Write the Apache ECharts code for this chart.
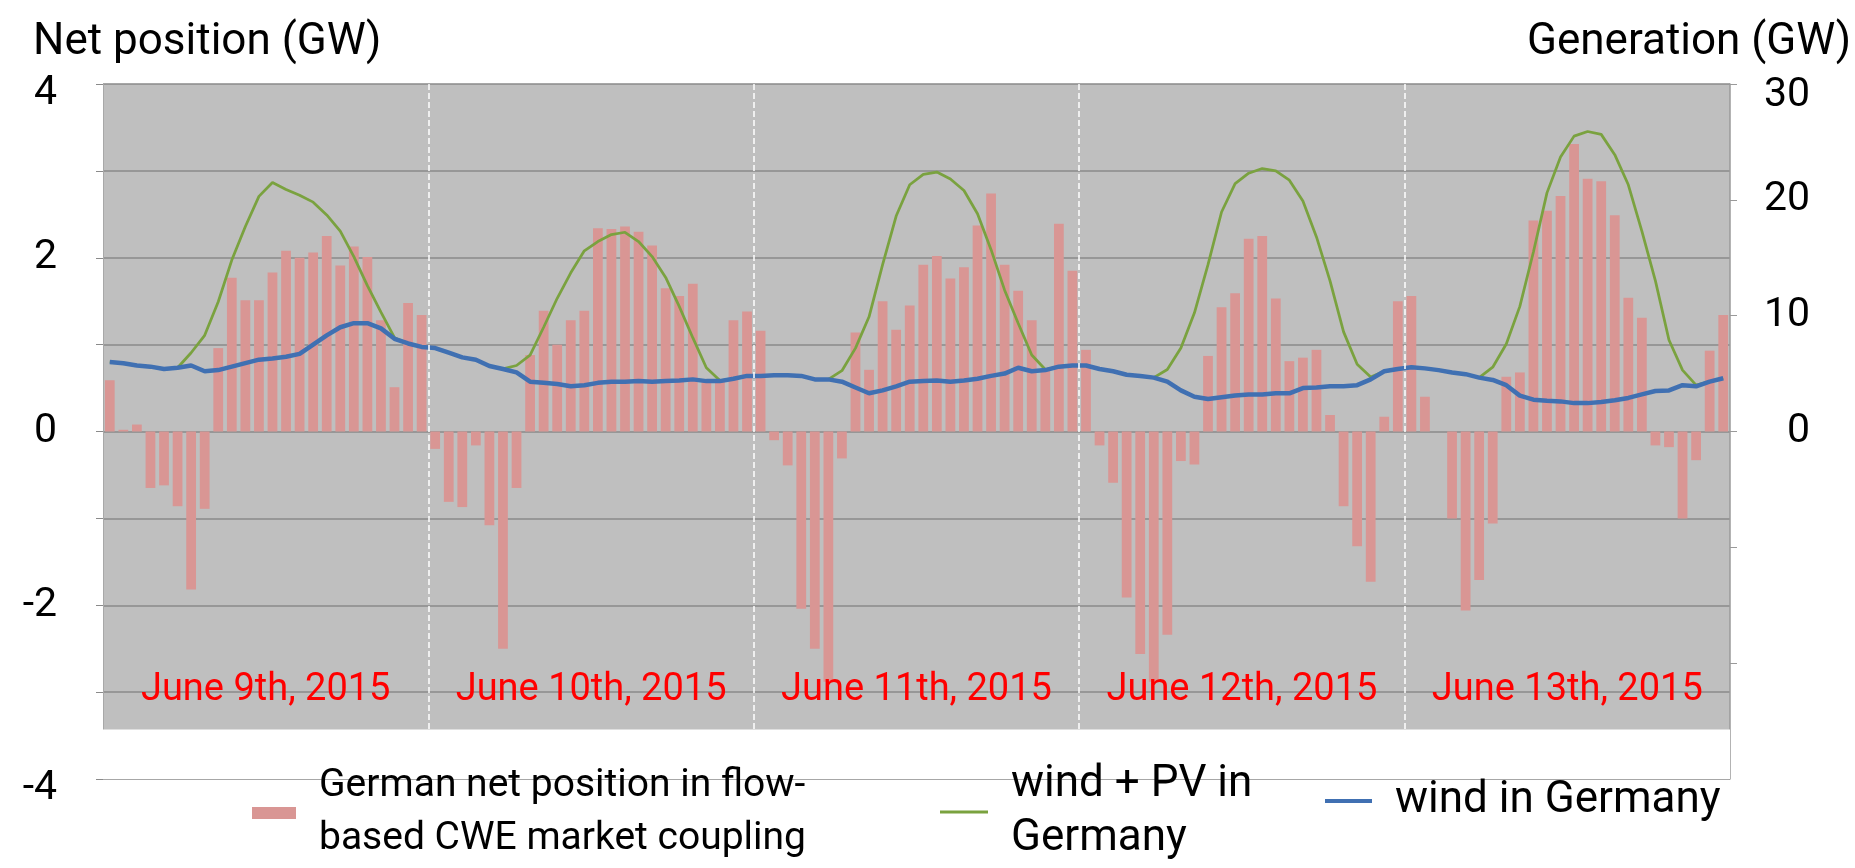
<!DOCTYPE html>
<html>
<head>
<meta charset="utf-8">
<script src="https://cdn.jsdelivr.net/npm/echarts@6/dist/echarts.min.js"></script>
<style>
html,body{margin:0;padding:0;background:#fff;}
#chart{width:1855px;height:868px;}
</style>
</head>
<body>
<div id="chart"></div>
<script>
// ---- data ----
const days = ['June 9th, 2015', 'June 10th, 2015', 'June 11th, 2015', 'June 12th, 2015', 'June 13th, 2015'];
const hours = ['00','01','02','03','04','05','06','07','08','09','10','11','12','13','14','15','16','17','18','19','20','21','22','23'];

// German net position in flow-based CWE market coupling (GW, left axis)
const netPosition = [
  0.59, 0.02, 0.08, -0.65, -0.62, -0.86, -1.82, -0.89, 0.96, 1.77, 1.51, 1.51, 1.83, 2.08, 2.00, 2.06, 2.25, 1.91, 2.13, 2.01, 1.28, 0.51, 1.48, 1.34,
  -0.20, -0.81, -0.87, -0.16, -1.08, -2.50, -0.65, 0.88, 1.39, 1.00, 1.28, 1.39, 2.34, 2.33, 2.36, 2.30, 2.14, 1.65, 1.56, 1.70, 0.58, 0.58, 1.28, 1.38,
  1.16, -0.10, -0.39, -2.04, -2.50, -2.88, -0.31, 1.14, 0.71, 1.50, 1.17, 1.45, 1.92, 2.02, 1.76, 1.89, 2.37, 2.74, 1.92, 1.62, 1.28, 0.71, 2.39, 1.85,
  0.94, -0.16, -0.59, -1.91, -2.56, -2.88, -2.34, -0.34, -0.38, 0.87, 1.43, 1.59, 2.22, 2.25, 1.53, 0.81, 0.85, 0.94, 0.19, -0.86, -1.32, -1.73, 0.17, 1.50,
  1.56, 0.40, 0.00, -1.00, -2.06, -1.71, -1.06, 0.63, 0.68, 2.43, 2.54, 2.71, 3.31, 2.91, 2.88, 2.49, 1.54, 1.31, -0.16, -0.18, -1.00, -0.33, 0.93, 1.34
];

// wind + PV in Germany (GW, right axis)
const windPV = [
  6.0, 5.9, 5.7, 5.6, 5.4, 5.5, 6.8, 8.3, 11.2, 14.8, 17.7, 20.3, 21.5, 20.9, 20.4, 19.8, 18.7, 17.3, 15.1, 12.6, 10.3, 8.1, 7.6, 7.3,
  7.2, 6.8, 6.4, 6.2, 5.65, 5.4, 5.7, 6.6, 9.0, 11.5, 13.7, 15.6, 16.4, 17.0, 17.2, 16.4, 15.1, 13.3, 10.8, 8.1, 5.5, 4.4, 4.55, 4.8,
  4.8, 4.85, 4.85, 4.8, 4.5, 4.5, 5.25, 7.2, 9.9, 14.4, 18.6, 21.3, 22.2, 22.4, 21.8, 20.8, 18.8, 15.7, 12.2, 9.35, 6.6, 5.35, 5.6, 5.7,
  5.7, 5.4, 5.2, 4.9, 4.8, 4.65, 5.35, 7.2, 10.25, 14.4, 18.95, 21.4, 22.3, 22.7, 22.5, 21.7, 19.9, 16.8, 13.0, 8.6, 5.8, 4.7, 5.2, 5.4,
  5.55, 5.45, 5.3, 5.1, 4.95, 4.65, 5.55, 7.55, 10.8, 15.5, 20.6, 23.7, 25.5, 25.9, 25.65, 23.9, 21.3, 17.3, 13.0, 7.9, 5.3, 4.0, 4.3, 4.6
];

// wind in Germany (GW, right axis)
const wind = [
  6.0, 5.9, 5.7, 5.6, 5.4, 5.5, 5.7, 5.2, 5.3, 5.6, 5.9, 6.2, 6.3, 6.45, 6.7, 7.5, 8.3, 9.0, 9.35, 9.35, 8.9, 8.0, 7.6, 7.3,
  7.2, 6.8, 6.4, 6.2, 5.65, 5.4, 5.1, 4.3, 4.2, 4.1, 3.9, 4.0, 4.2, 4.3, 4.3, 4.35, 4.3, 4.35, 4.4, 4.5, 4.35, 4.35, 4.55, 4.8,
  4.8, 4.85, 4.85, 4.8, 4.5, 4.5, 4.3, 3.8, 3.3, 3.55, 3.9, 4.3, 4.35, 4.4, 4.3, 4.4, 4.55, 4.8, 5.0, 5.5, 5.2, 5.3, 5.6, 5.7,
  5.7, 5.4, 5.2, 4.9, 4.8, 4.65, 4.3, 3.55, 3.0, 2.8, 2.95, 3.1, 3.2, 3.2, 3.3, 3.3, 3.75, 3.8, 3.9, 3.9, 4.0, 4.5, 5.2, 5.4,
  5.55, 5.45, 5.3, 5.1, 4.95, 4.65, 4.45, 4.0, 3.1, 2.75, 2.65, 2.6, 2.45, 2.45, 2.55, 2.7, 2.9, 3.2, 3.5, 3.55, 4.0, 3.9, 4.3, 4.6
];

const seriesNames = ['German net position in flow-\nbased CWE market coupling', 'wind + PV in\nGermany', 'wind in Germany'];
const leftTicks = [-4, -2, 0, 2, 4];
const rightTicks = [0, 10, 20, 30];
const rightTickMarks = [-20, -10, 0, 10, 20, 30];
const dayBoundaries = [24, 48, 72, 96];       // hour index where a new day starts
const dayLabelCenters = [12, 36, 60, 84, 108]; // hour index at the middle of each day
const dayLabelLevel = -2.98;                   // GW level of the red date labels
const shadedBottom = -3.43;                    // GW level where the grey plot area ends

// ---- build ----
const categories = [];
days.forEach(d => hours.forEach(h => categories.push(d + ' ' + h + ':00')));

const FONT = "Roboto, 'Liberation Sans', sans-serif";

const lowLabel = { padding: [20, 0, 0, 0], fontSize: 41, fontFamily: FONT, color: '#000' };

const chart = echarts.init(document.getElementById('chart'));
const option = {
  animation: false,
  backgroundColor: '#ffffff',
  grid: { left: 103, right: 125, top: 84, bottom: 89, show: true, backgroundColor: '#bfbfbf', borderWidth: 0 },
  title: [
    { text: 'Net position (GW)', left: 33, top: 21, padding: 0,
      textStyle: { fontSize: 44, fontWeight: 'normal', fontFamily: FONT, color: '#000' } },
    { text: 'Generation (GW)', right: 4, top: 21, padding: 0,
      textStyle: { fontSize: 44, fontWeight: 'normal', fontFamily: FONT, color: '#000' } }
  ],
  legend: [
    { data: [seriesNames[0]], left: 252, top: 760, padding: 0, icon: 'rect', itemWidth: 44, itemHeight: 12,
      textStyle: { fontSize: 39, lineHeight: 53, fontFamily: FONT, color: '#000', padding: [0, 0, 0, 18] } },
    { data: [seriesNames[1]], left: 940, top: 758, padding: 0, icon: 'rect', itemWidth: 48, itemHeight: 3,
      textStyle: { fontSize: 44, lineHeight: 54, fontFamily: FONT, color: '#000', padding: [0, 0, 0, 18] } },
    { data: [seriesNames[2]], left: 1325, top: 774, padding: 0, icon: 'rect', itemWidth: 47, itemHeight: 4,
      textStyle: { fontSize: 44, lineHeight: 54, fontFamily: FONT, color: '#000', padding: [0, 0, 0, 18] } }
  ],
  xAxis: [
    { type: 'category', data: categories, boundaryGap: true,
      axisLine: { show: false }, axisTick: { show: false }, axisLabel: { show: false }, splitLine: { show: false } },
    { type: 'value', min: 0, max: categories.length, show: false }
  ],
  yAxis: [
    { type: 'value', min: -4, max: 4, interval: 1,
      axisLine: { show: true, lineStyle: { color: '#a8a8a8', width: 1 } },
      axisTick: { show: true, length: 7, lineStyle: { color: '#8a8a8a' } },
      axisLabel: { margin: 46, fontSize: 41, color: '#000', fontFamily: FONT,
        customValues: leftTicks,
        formatter: v => leftTicks.indexOf(v) < 0 ? '' : (Math.abs(v) === 4 ? '{low|' + v + '}' : String(v)),
        rich: { low: lowLabel } },
      splitLine: { show: true, lineStyle: { color: '#8a8a8a', width: 1.5 } } },
    { type: 'value', min: -30, max: 30, interval: 10, position: 'right',
      axisLine: { show: true, lineStyle: { color: '#9a9a9a', width: 1.5 } },
      axisTick: { show: true, length: 7, lineStyle: { color: '#9a9a9a' }, customValues: rightTickMarks },
      axisLabel: { margin: 80, align: 'right', fontSize: 41, color: '#000', fontFamily: FONT,
        customValues: rightTicks,
        formatter: v => rightTicks.indexOf(v) < 0 ? '' : (v === 30 ? '{low|' + v + '}' : String(v)),
        rich: { low: Object.assign({}, lowLabel, { padding: [24, 0, 0, 0] }) } },
      splitLine: { show: false } }
  ],
  series: [
    { name: seriesNames[0], type: 'bar', xAxisIndex: 0, yAxisIndex: 0, data: netPosition,
      barWidth: '72%', itemStyle: { color: '#d99694' } },
    { name: seriesNames[1], type: 'line', xAxisIndex: 0, yAxisIndex: 1, data: windPV,
      symbol: 'none', showSymbol: false, lineStyle: { color: '#7aa23f', width: 2.75 }, itemStyle: { color: '#7aa23f' } },
    { name: seriesNames[2], type: 'line', xAxisIndex: 0, yAxisIndex: 1, data: wind,
      symbol: 'none', showSymbol: false, lineStyle: { color: '#4070b2', width: 4.5 }, itemStyle: { color: '#4070b2' } },
    { name: 'annotations', type: 'line', xAxisIndex: 1, yAxisIndex: 0, data: [], silent: true, z: 3,
      markArea: { silent: true, itemStyle: { color: '#ffffff' },
        data: [[{ coord: [0, -4] }, { coord: [categories.length, shadedBottom] }]] },
      markLine: { silent: true, symbol: ['none', 'none'], label: { show: false },
        lineStyle: { color: '#ffffff', type: 'dashed', width: 1.5 },
        emphasis: { disabled: true },
        data: dayBoundaries.map(x => [{ coord: [x, 4] }, { coord: [x, shadedBottom] }]) },
      markPoint: { silent: true, symbol: 'circle', symbolSize: 1, itemStyle: { color: 'rgba(0,0,0,0)' },
        label: { show: true, position: 'inside', formatter: '{b}', color: '#ff0000', fontSize: 38, fontFamily: FONT },
        data: days.map((d, i) => ({ name: d, coord: [dayLabelCenters[i], dayLabelLevel] })) } }
  ]
};
chart.setOption(option);
</script>
</body>
</html>
